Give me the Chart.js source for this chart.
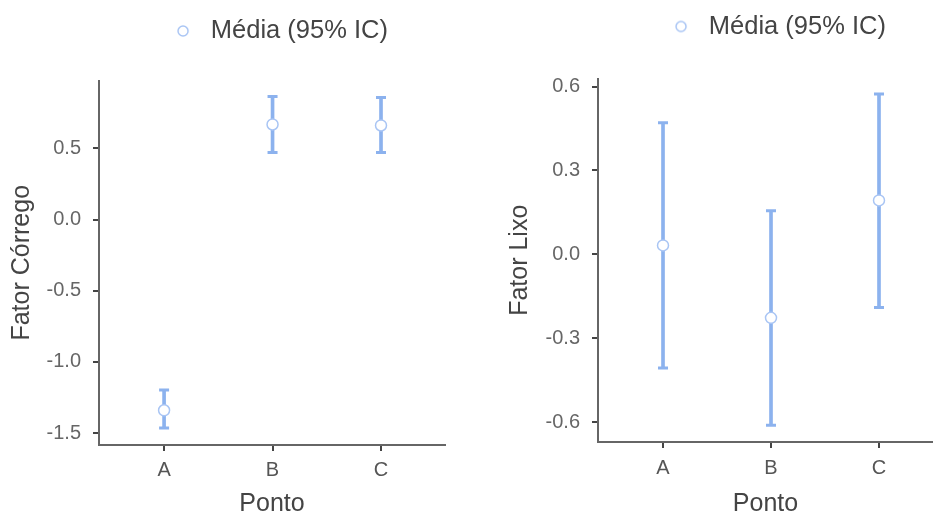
<!DOCTYPE html>
<html>
<head>
<meta charset="utf-8">
<script src="https://cdn.jsdelivr.net/npm/chart.js@4.4.1/dist/chart.umd.min.js"></script>
<style>
  html, body { margin: 0; padding: 0; background: #fff; overflow: hidden; }
  canvas { position: absolute; top: 0; }
  #chartCorrego { left: 0; }
  #chartLixo { left: 470px; }
</style>
</head>
<body>
<canvas id="chartCorrego" width="470" height="517"></canvas>
<canvas id="chartLixo" width="471" height="517"></canvas>
<script>
// dados (média e IC 95%)
const pontos = ['A', 'B', 'C'];

const corregoMedia = [-1.34, 0.668, 0.661];
const corregoInf = [-1.465, 0.472, 0.472];
const corregoSup = [-1.198, 0.865, 0.858];
const corregoTicks = [-1.5, -1.0, -0.5, 0.0, 0.5];

const lixoMedia = [0.032, -0.227, 0.193];
const lixoInf = [-0.406, -0.611, -0.190];
const lixoSup = [0.471, 0.156, 0.574];
const lixoTicks = [-0.6, -0.3, 0.0, 0.3, 0.6];

const legendaTexto = 'Média (95% IC)';

const corBarra = '#8cb2ee';
const corMarcador = '#a9c5f4';
const fonte = "'Liberation Sans', Arial, sans-serif";

Chart.defaults.font.family = fonte;

// move a legenda depois do layout (posição igual à da figura)
const moveLegend = {
    id: 'moveLegend',
    afterLayout(chart, args, opts) {
        const lg = chart.legend;
        if (!lg) return;
        lg.left += opts.dx; lg.right += opts.dx;
        lg.top += opts.dy; lg.bottom += opts.dy;
    }
};

function circuloLegenda() {
    const c = document.createElement('canvas');
    c.width = 22; c.height = 14;
    const g = c.getContext('2d');
    g.strokeStyle = corMarcador;
    g.lineWidth = 1.5;
    g.beginPath();
    g.arc(7, 7, 5, 0, Math.PI * 2);
    g.stroke();
    return c;
}

function pts(vals) {
    return vals.map((v, i) => ({ x: i, y: v }));
}

function grade() {
    return {
        offset: false,
        drawOnChartArea: false,
        drawTicks: true,
        tickLength: 6,
        color: '#444',
        lineWidth: 2,
        tickColor: '#444',
        tickWidth: 2
    };
}

function borda() {
    return { display: true, color: '#666', width: 2 };
}

function makeChart(id, media, inf, sup, yTicks, cfg) {
    const ctx = document.getElementById(id).getContext('2d');

    return new Chart(ctx, {
        type: 'bar',
        data: {
            datasets: [
                {
                    type: 'scatter',
                    label: legendaTexto,
                    data: pts(media),
                    pointRadius: 5.5,
                    pointBackgroundColor: '#fff',
                    pointBorderColor: corMarcador,
                    pointBorderWidth: 1.5
                },
                {
                    type: 'scatter',
                    label: 'limites',
                    data: pts(inf).concat(pts(sup)),
                    pointStyle: 'line',
                    pointRadius: 5,
                    pointBorderColor: corBarra,
                    pointBorderWidth: 3
                },
                {
                    type: 'bar',
                    label: 'ic',
                    data: pontos.map((p, i) => ({ x: i, y: [inf[i], sup[i]] })),
                    backgroundColor: corBarra,
                    barThickness: 3
                }
            ]
        },
        options: {
            responsive: false,
            animation: false,
            events: [],
            layout: { padding: { right: cfg.padRight } },
            plugins: {
                legend: {
                    position: 'top',
                    labels: {
                        filter: item => item.datasetIndex === 0,
                        usePointStyle: true,
                        pointStyle: circuloLegenda(),
                        pointStyleWidth: 22,
                        font: { size: 25.5 },
                        color: '#444',
                        padding: cfg.legPad
                    }
                },
                tooltip: { enabled: false },
                moveLegend: { dx: cfg.legDx, dy: cfg.legDy }
            },
            scales: {
                x: {
                    type: 'linear',
                    min: cfg.xMin,
                    max: cfg.xMax,
                    offset: false,
                    grid: grade(),
                    border: borda(),
                    afterBuildTicks: s => { s.ticks = pontos.map((p, i) => ({ value: i })); },
                    afterFit: s => {
                        s.height = cfg.xAltura;
                        s.paddingLeft = 0;
                        s.paddingRight = 0;
                    },
                    ticks: {
                        callback: v => pontos[v],
                        font: { size: 20 },
                        color: '#555',
                        padding: cfg.xTickPad,
                        autoSkip: false,
                        maxRotation: 0
                    },
                    title: {
                        display: true,
                        text: 'Ponto',
                        font: { size: 25, lineHeight: 1 },
                        color: '#444',
                        padding: 0
                    }
                },
                y: {
                    min: cfg.yMin,
                    max: cfg.yMax,
                    grid: grade(),
                    border: borda(),
                    afterBuildTicks: s => { s.ticks = yTicks.map(v => ({ value: v })); },
                    afterFit: s => { s.width = cfg.yLargura; },
                    ticks: {
                        callback: v => v.toFixed(1),
                        font: { size: 20 },
                        color: '#666',
                        padding: 12
                    },
                    title: {
                        display: true,
                        text: cfg.yTitulo,
                        font: { size: 25, lineHeight: 1 },
                        color: '#444',
                        padding: { top: cfg.yTituloPad, bottom: 0 }
                    }
                }
            }
        },
        plugins: [moveLegend]
    });
}

makeChart('chartCorrego', corregoMedia, corregoInf, corregoSup, corregoTicks, {
    yTitulo: 'Fator Córrego',
    yMin: -1.584, yMax: 0.977,
    xMin: -0.6, xMax: 2.59,
    padRight: 25,
    yLargura: 99, yTituloPad: 10,
    xAltura: 72, xTickPad: 7,
    legPad: 45, legDx: 59.5, legDy: -26.75
});

makeChart('chartLixo', lixoMedia, lixoInf, lixoSup, lixoTicks, {
    yTitulo: 'Fator Lixo',
    yMin: -0.671, yMax: 0.629,
    xMin: -0.602, xMax: 2.5,
    padRight: 0,
    yLargura: 128, yTituloPad: 38,
    xAltura: 75, xTickPad: 8,
    legPad: 43, legDx: 74.5, legDy: -29.25
});
</script>
</body>
</html>
